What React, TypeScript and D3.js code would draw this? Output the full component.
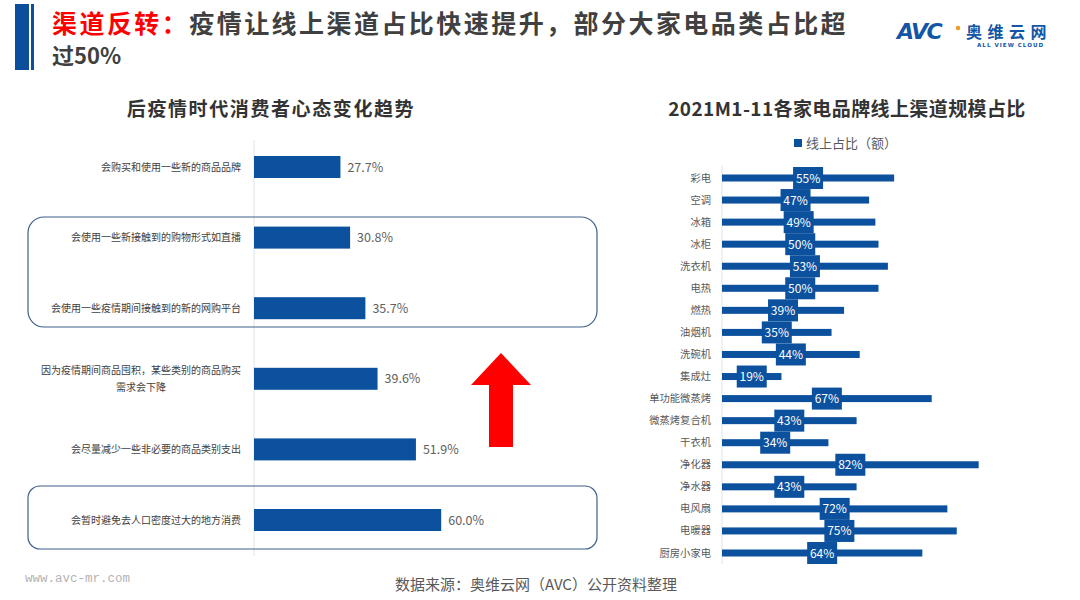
import React from "react";
import * as d3 from "d3";

// ---------- Data ----------
const leftCategories: string[][] = [
  ["会购买和使用一些新的商品品牌"],
  ["会使用一些新接触到的购物形式如直播"],
  ["会使用一些疫情期间接触到的新的网购平台"],
  ["因为疫情期间商品囤积，某些类别的商品购买", "需求会下降"],
  ["会尽量减少一些非必要的商品类别支出"],
  ["会暂时避免去人口密度过大的地方消费"],
];
const leftValues: number[] = [27.7, 30.8, 35.7, 39.6, 51.9, 60.0];

const rightCategories: string[] = [
  "彩电", "空调", "冰箱", "冰柜", "洗衣机", "电热", "燃热", "油烟机", "洗碗机", "集成灶",
  "单功能微蒸烤", "微蒸烤复合机", "干衣机", "净化器", "净水器", "电风扇", "电暖器", "厨房小家电",
];
const rightValues: number[] = [55, 47, 49, 50, 53, 50, 39, 35, 44, 19, 67, 43, 34, 82, 43, 72, 75, 64];

const legendLabel = "线上占比（额）";
const leftTitle = "后疫情时代消费者心态变化趋势";
const rightTitle = "2021M1-11各家电品牌线上渠道规模占比";

const BLUE = "#0b519e";
const FONT = "'Noto Sans CJK SC', 'Noto Sans', sans-serif";

export default function App() {
  // Left chart scales
  const lx = d3.scaleLinear().domain([0, 100]).range([254, 254 + 312]);
  const ly = d3.scalePoint<number>().domain(d3.range(leftValues.length)).range([167, 520]);
  const lBarH = 22;

  // Right chart scales
  const rx = d3.scaleLinear().domain([0, 100]).range([722, 722 + 313]);
  const ry = d3.scalePoint<string>().domain(rightCategories).range([178, 553]);
  const rBarH = 7;

  const arrow = d3.path();
  arrow.moveTo(501, 353);
  arrow.lineTo(531, 385);
  arrow.lineTo(513, 385);
  arrow.lineTo(513, 447);
  arrow.lineTo(489, 447);
  arrow.lineTo(489, 385);
  arrow.lineTo(471, 385);
  arrow.closePath();

  return (
    <svg
      width={1080}
      height={600}
      style={{ position: "absolute", left: 0, top: 0, background: "#fff", fontFamily: FONT }}
    >
      <rect x={0} y={0} width={1080} height={600} fill="#ffffff" />

      {/* Header */}
      <rect x={15} y={4} width={14} height={66} fill="#0b4f9c" />
      <rect x={31} y={4} width={3} height={66} fill="#0b4f9c" />
      <text x={52} y={33} fontSize={25} fontWeight={700} letterSpacing={2.45} fill="#404040">
        <tspan fill="#ff0000">渠道反转：</tspan>
        <tspan>疫情让线上渠道占比快速提升，部分大家电品类占比超</tspan>
      </text>
      <text x={52} y={64} fontSize={22} fontWeight={700} fill="#404040">过50%</text>

      {/* Logo */}
      <text x={897} y={39} fontSize={22} fontWeight={900} fontStyle="italic" fill="#1256a5"
        fontFamily="'DejaVu Sans', sans-serif" letterSpacing={-1.5}>AVC</text>
      <circle cx={958} cy={28} r={2.2} fill="#f39a1e" />
      <text x={966} y={37.5} fontSize={16} fontWeight={700} letterSpacing={5.5} fill="#1256a5">奥维云网</text>
      <text x={977} y={47} fontSize={5.6} fontWeight={700} letterSpacing={1} fill="#1256a5"
        fontFamily="'DejaVu Sans', sans-serif">ALL VIEW CLOUD</text>

      {/* Left chart */}
      <text x={271} y={116} textAnchor="middle" fontSize={19} fontWeight={700} letterSpacing={1.6} fill="#333">
        {leftTitle}
      </text>
      <line x1={254} x2={254} y1={140} y2={556} stroke="#dde3ea" strokeWidth={1} />
      <rect x={28} y={217} width={569} height={110} rx={16} ry={16} fill="none" stroke="#3e5f8a" strokeWidth={1.2} />
      <rect x={28} y={486} width={569} height={63} rx={12} ry={12} fill="none" stroke="#3e5f8a" strokeWidth={1.2} />
      {leftValues.map((v, i) => {
        const cy = ly(i)!;
        const lines = leftCategories[i];
        return (
          <g key={i}>
            <rect x={lx(0)} y={cy - lBarH / 2} width={lx(v) - lx(0)} height={lBarH} fill={BLUE} />
            <text x={lx(v) + 7} y={cy + 4.5} fontSize={12.5} fill="#606060">{v.toFixed(1)}%</text>
            {lines.length === 1 ? (
              <text x={241} y={cy + 3.5} textAnchor="end" fontSize={10} fill="#404040">{lines[0]}</text>
            ) : (
              lines.map((t, j) => (
                <text key={j} x={141} y={cy - 5 + j * 17} textAnchor="middle" fontSize={10} fill="#404040">{t}</text>
              ))
            )}
          </g>
        );
      })}
      <path d={arrow.toString()} fill="#ff0000" />

      {/* Right chart */}
      <text x={847} y={116} textAnchor="middle" fontSize={19} fontWeight={700} letterSpacing={0.4} fill="#333">{rightTitle}</text>
      <rect x={794} y={139} width={8} height={8} fill={BLUE} />
      <text x={806} y={148} fontSize={13} fill="#595959">{legendLabel}</text>
      <line x1={722} x2={722} y1={166} y2={564} stroke="#dde3ea" strokeWidth={1} />
      {rightCategories.map((c, i) => {
        const cy = ry(c)!;
        const v = rightValues[i];
        return (
          <g key={c}>
            <rect x={rx(0)} y={cy - rBarH / 2} width={rx(v) - rx(0)} height={rBarH} fill={BLUE} />
            <text x={711} y={cy + 3.5} textAnchor="end" fontSize={10.3} fill="#595959">{c}</text>
          </g>
        );
      })}
      {rightCategories.map((c, i) => {
        const cy = ry(c)!;
        const v = rightValues[i];
        const mid = (rx(0) + rx(v)) / 2;
        return (
          <g key={c + "-lbl"}>
            <rect x={mid - 15} y={cy - 11} width={30} height={22} fill={BLUE} />
            <text x={mid} y={cy + 4.5} textAnchor="middle" fontSize={12} fill="#ffffff">{v}%</text>
          </g>
        );
      })}

      {/* Footer */}
      <text x={25} y={582} fontSize={12.5} fill="#b3b3b3" fontFamily="'Liberation Mono', monospace">www.avc-mr.com</text>
      <text x={395} y={590} fontSize={15} fill="#595959">数据来源：奥维云网（AVC）公开资料整理</text>
    </svg>
  );
}
